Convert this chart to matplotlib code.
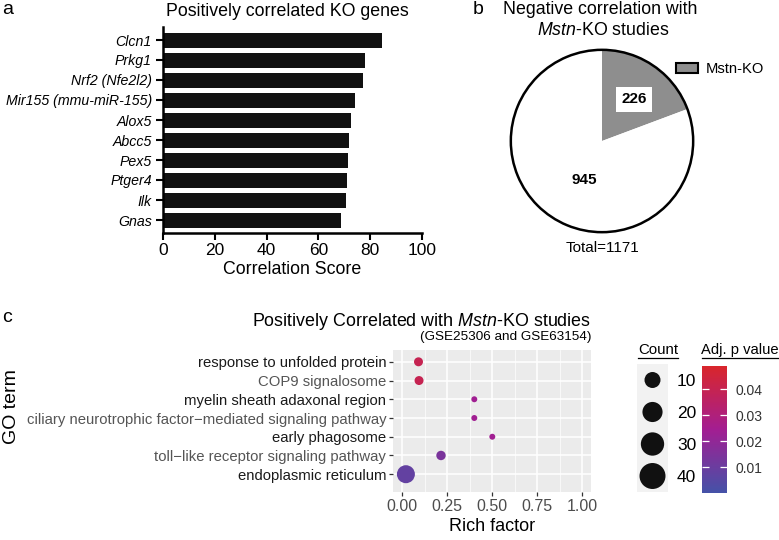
import numpy as np
import matplotlib
matplotlib.use("Agg")
import matplotlib.pyplot as plt
from matplotlib.colors import LinearSegmentedColormap, Normalize
from matplotlib.patches import Patch
from matplotlib.lines import Line2D
import matplotlib.cm as cm

plt.rcParams['font.family'] = ['Liberation Sans', 'DejaVu Sans']
plt.rcParams['mathtext.fontset'] = 'custom'
plt.rcParams['mathtext.rm'] = 'Liberation Sans'
plt.rcParams['mathtext.it'] = 'Liberation Sans:italic'

# --- data ---
# panel a: positively correlated KO genes
genes = ['Clcn1', 'Prkg1', 'Nrf2 (Nfe2l2)', 'Mir155 (mmu-miR-155)', 'Alox5',
         'Abcc5', 'Pex5', 'Ptger4', 'Ilk', 'Gnas']
scores = [84.6, 78.1, 77.3, 74.1, 72.6, 71.7, 71.3, 71.2, 70.7, 68.6]

# panel b: negative correlation with Mstn-KO studies
pie_labels = ['Mstn-KO', 'Other']
pie_values = [226, 945]

# panel c: GO enrichment
go_terms = ['response to unfolded protein', 'COP9 signalosome',
            'myelin sheath adaxonal region',
            'ciliary neurotrophic factor\u2212mediated signaling pathway',
            'early phagosome', 'toll\u2212like receptor signaling pathway',
            'endoplasmic reticulum']
rich_factor = [0.09, 0.093, 0.40, 0.40, 0.50, 0.215, 0.02]
go_count = [7, 7, 2, 2, 2, 8, 40]
adj_p = [0.040, 0.040, 0.024, 0.024, 0.024, 0.014, 0.008]
legend_counts = [10, 20, 30, 40]
cbar_ticks = [0.01, 0.02, 0.03, 0.04]

W, H = 779, 540
def fx(px):
    return px / W
def fy(py):
    return 1 - py / H

fig = plt.figure(figsize=(W / 100, H / 100), dpi=100)

# ---------------- panel a ----------------
ax_a = fig.add_axes([fx(163), fy(233), 259 / W, 206 / H])
ax_a.barh(np.arange(len(genes)), scores, height=0.75, color='#111111')
ax_a.set_ylim(len(genes) - 0.35, -0.65)
ax_a.set_xlim(0, 100)
ax_a.set_xticks(np.arange(0, 101, 20))
ax_a.set_yticks(np.arange(len(genes)))
ax_a.set_yticklabels(genes, fontsize=10.2, fontstyle='italic')
ax_a.tick_params(axis='x', labelsize=12.5, length=5, width=1.5, pad=2)
ax_a.tick_params(axis='y', length=5, width=1.5, pad=3)
for s in ['top', 'right']:
    ax_a.spines[s].set_visible(False)
for s in ['left', 'bottom']:
    ax_a.spines[s].set_linewidth(1.8)
ax_a.set_xlabel('Correlation Score', fontsize=12.8, labelpad=2)
fig.text(fx(287), fy(11), 'Positively correlated KO genes', fontsize=12.8,
         ha='center', va='center')
fig.text(fx(2), fy(1), 'a', fontsize=14, ha='left', va='top')

# ---------------- panel b ----------------
ax_b = fig.add_axes([fx(602 - 93), fy(141 + 93), 186 / W, 186 / H])
wedges, _ = ax_b.pie(pie_values, colors=['#8e8e8e', 'white'], startangle=90,
                     counterclock=False, radius=1,
                     wedgeprops=dict(linewidth=0))
ax_b.pie([sum(pie_values)], colors=['none'], radius=1,
         wedgeprops=dict(linewidth=1.8, edgecolor='black', fill=False))
ax_b.set_xlim(-1.02, 1.02)
ax_b.set_ylim(-1.02, 1.02)
fig.text(fx(634), fy(99), str(pie_values[0]), fontsize=11, fontweight='bold',
         ha='center', va='center',
         bbox=dict(facecolor='white', edgecolor='none', pad=4))
fig.text(fx(584), fy(180), str(pie_values[1]), fontsize=11, fontweight='bold',
         ha='center', va='center')
fig.text(fx(602), fy(248), 'Total=%d' % sum(pie_values), fontsize=11,
         ha='center', va='center')
fig.legend(handles=[Patch(facecolor='#8e8e8e', edgecolor='black', linewidth=1.5,
                          label=pie_labels[0])],
           loc='center left', bbox_to_anchor=(fx(676), fy(69)), frameon=False,
           fontsize=10.6, handlelength=1.5, handleheight=0.7, handletextpad=0.5,
           borderpad=0, borderaxespad=0)
fig.text(fx(478), fy(9), 'b', fontsize=14, ha='center', va='center')
fig.text(fx(600), fy(10), 'Negative correlation with', fontsize=12.8,
         ha='center', va='center')
fig.text(fx(603), fy(31), r'$\it{Mstn}$-KO studies', fontsize=12.8,
         ha='center', va='center')

# ---------------- panel c ----------------
cmap = LinearSegmentedColormap.from_list('padj', ['#4452a8', '#a31e92', '#d9262b'])
norm = Normalize(vmin=0, vmax=0.049)

def dot_size(c):
    d = 2.5 + 2.45 * np.sqrt(np.asarray(c, dtype=float))
    return (d * 0.72) ** 2

def legend_size(c):
    d = 6 + 3.16 * np.sqrt(np.asarray(c, dtype=float))
    return (d * 0.72) ** 2

ax_c = fig.add_axes([fx(393.3), fy(492), 198 / W, 142 / H])
ax_c.set_facecolor('#ebebeb')
ypos = np.arange(1, len(go_terms) + 1)
ax_c.scatter(rich_factor, ypos, s=dot_size(go_count), c=adj_p, cmap=cmap,
             norm=norm, zorder=3, linewidths=0)
ax_c.set_xlim(-0.05, 1.05)
ax_c.set_ylim(7.95, 0.37)
ax_c.set_xticks([0, 0.25, 0.5, 0.75, 1.0])
ax_c.set_xticklabels(['0.00', '0.25', '0.50', '0.75', '1.00'])
ax_c.set_xticks([0.125, 0.375, 0.625, 0.875], minor=True)
ax_c.set_yticks(ypos)
ax_c.set_yticklabels(go_terms, fontsize=10.7)
for i, lab in enumerate(ax_c.get_yticklabels()):
    lab.set_color('#1a1a1a' if i % 2 == 0 else '#555555')
ax_c.grid(which='major', color='white', linewidth=1.1)
ax_c.grid(which='minor', axis='x', color='white', linewidth=0.5)
ax_c.set_axisbelow(True)
for s in ax_c.spines.values():
    s.set_visible(False)
ax_c.tick_params(which='major', color='#333333', length=3, width=0.9, pad=2)
ax_c.tick_params(which='minor', length=0)
ax_c.tick_params(axis='x', labelsize=11.5, labelcolor='#4d4d4d')
ax_c.set_xlabel('Rich factor', fontsize=13, labelpad=3)
fig.text(fx(12), fy(407), 'GO term', fontsize=14, rotation=90,
         ha='center', va='center')
fig.text(fx(591), fy(321), r'Positively Correlated with $\it{Mstn}$-KO studies',
         fontsize=12.9, ha='right', va='center')
fig.text(fx(592), fy(337), '(GSE25306 and GSE63154)', fontsize=9.7,
         ha='right', va='center')
fig.text(fx(2), fy(317), 'c', fontsize=14, ha='left', va='center')

# size legend
ax_l = fig.add_axes([fx(637), fy(492), 31 / W, 128 / H])
ax_l.set_facecolor('#f2f2f2')
ax_l.scatter(np.zeros(len(legend_counts)), np.arange(len(legend_counts)),
             s=legend_size(legend_counts), color='#111111', linewidths=0)
ax_l.set_xlim(-1, 1)
ax_l.set_ylim(len(legend_counts) - 0.5, -0.5)
ax_l.set_xticks([])
ax_l.yaxis.tick_right()
ax_l.set_yticks(np.arange(len(legend_counts)))
ax_l.set_yticklabels([str(c) for c in legend_counts], fontsize=12.5)
ax_l.tick_params(axis='y', length=0, pad=6.5)
for s in ax_l.spines.values():
    s.set_visible(False)
fig.text(fx(658), fy(350), 'Count', fontsize=10.8, ha='center', va='center')
fig.add_artist(Line2D([fx(638), fx(678)], [fy(358), fy(358)], color='black',
                      linewidth=0.9))

# colour bar
cax = fig.add_axes([fx(702), fy(493), 25 / W, 127 / H])
sm = cm.ScalarMappable(norm=norm, cmap=cmap)
cb = fig.colorbar(sm, cax=cax, ticks=cbar_ticks)
cb.outline.set_visible(False)
cb.ax.set_yticklabels(['%.2f' % t for t in cbar_ticks])
cax.yaxis.set_ticks_position('both')
cax.tick_params(direction='in', color='white', length=5, width=0.9,
                labelsize=10, labelcolor='#333333', pad=6, labelleft=False,
                labelright=True)
fig.text(fx(740), fy(350), 'Adj. p value', fontsize=10.6, ha='center',
         va='center')
fig.add_artist(Line2D([fx(702), fx(779)], [fy(358), fy(358)], color='black',
                      linewidth=0.9))

fig.savefig('out.png', dpi=100)
